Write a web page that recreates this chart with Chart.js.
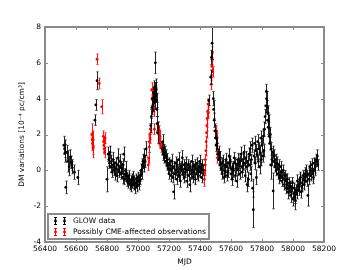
<!DOCTYPE html>
<html>
<head>
<meta charset="utf-8">
<script src="https://cdn.jsdelivr.net/npm/chart.js@4.4.0/dist/chart.umd.min.js"></script>
<style>
  html, body { margin: 0; padding: 0; background: #fff; }
</style>
</head>
<body>
<canvas id="dmChart" width="360" height="270"></canvas>
<script>
// Tick labels
const xTicks = [56400, 56600, 56800, 57000, 57200, 57400, 57600, 57800, 58000, 58200];
const yTicks = [-4, -2, 0, 2, 4, 6, 8];

// GLOW data (black)
const glowMjd = [
  56522, 56526, 56528, 56534, 56540, 56546, 56556, 56564, 56568, 56572, 56576, 56590, 56612,
  56722, 56728, 56736,
  56800, 56808, 56812, 56816, 56820, 56824, 56828, 56832, 56836, 56840, 56844, 56848, 56852, 56856,
  56860, 56864, 56868, 56872, 56876, 56880, 56884, 56888, 56892, 56896, 56900, 56904, 56908, 56912,
  56916, 56920, 56924, 56928, 56932, 56936, 56940, 56944, 56948, 56952, 56956, 56960, 56964, 56968,
  56972, 56976, 56980, 56984, 56988, 56992, 56996, 57000, 57004, 57008, 57012, 57016, 57020, 57024,
  57028, 57032, 57036, 57040, 57046, 57052,
  57082, 57086, 57090, 57094, 57098, 57100, 57104, 57106, 57108, 57110, 57112, 57114, 57116, 57118,
  57120, 57122, 57124, 57126,
  57156, 57160, 57162, 57166, 57170, 57174, 57178, 57182, 57186, 57190, 57194, 57198, 57202, 57206,
  57210, 57214, 57218, 57222, 57226, 57230, 57234, 57238, 57242, 57246, 57250, 57254, 57258, 57262,
  57266, 57270, 57274, 57278, 57282, 57286, 57290, 57294, 57298, 57302, 57306, 57310, 57314, 57318,
  57322, 57326, 57330, 57334, 57338, 57342, 57346, 57350, 57354, 57358, 57362, 57366, 57370, 57374,
  57378, 57382, 57386, 57390, 57394, 57398, 57402, 57406, 57410, 57414, 57418,
  57456, 57470, 57474, 57478, 57486, 57488, 57492, 57496, 57500, 57504, 57510, 57514,
  57520, 57524, 57528, 57532, 57536, 57540, 57544, 57548, 57552, 57556, 57560, 57564, 57568, 57572,
  57576, 57580, 57584, 57588, 57592, 57596, 57600, 57604, 57608, 57612, 57616, 57620, 57624, 57628,
  57632, 57636, 57640, 57644, 57648, 57652, 57656, 57660, 57664, 57668, 57672, 57676, 57680, 57684,
  57688, 57692, 57696, 57700, 57704, 57708, 57712, 57716, 57720, 57724, 57728, 57732, 57736, 57740,
  57744, 57748, 57752, 57756, 57760, 57764, 57768, 57772, 57776, 57780, 57784, 57788, 57792, 57796,
  57800, 57804, 57808, 57812, 57816, 57820, 57824, 57828, 57830, 57834, 57836, 57838, 57840, 57844,
  57846, 57850, 57854, 57856, 57860, 57864, 57868, 57872, 57876, 57880, 57884, 57888, 57892, 57896,
  57900, 57904, 57908, 57912, 57916, 57920, 57924, 57928, 57932, 57936, 57940, 57944, 57948, 57952,
  57956, 57960, 57964, 57968, 57972, 57976, 57980, 57984, 57988, 57992, 57996, 58000, 58004, 58008,
  58012, 58016, 58020, 58024, 58028, 58032, 58036, 58040, 58044, 58048, 58052, 58056, 58060, 58064,
  58068, 58072, 58076, 58080, 58084, 58088, 58092, 58096, 58100, 58104, 58108, 58112, 58116, 58120,
  58124, 58128, 58132, 58136, 58140, 58144, 58148, 58152, 58156, 58160
];
const glowDm = [
  1.4, 1.2, 0.95, -0.95, 1.0, 0.5, 0.2, 0.75, 0.45, 0.3, 0.15, -0.1, -0.4,
  2.8, 3.65, 5.0,
  -0.5, 0.9, 0.6, 0.4, 1.0, 0.2, 0.5, -0.1, 0.3, 0.6, 0.0, 0.2, -0.2, 0.4,
  0.1, -0.3, 0.3, 0.7, 0.0, -0.1, 0.5, 0.2, -0.2, 0.1, -0.4, 0.3, 0.9, -0.5,
  -0.2, 0.0, -0.3, -0.6, -0.4, -0.7, -0.3, -0.5, -0.8, -0.6, -0.9, -0.5, -0.7, -0.4,
  -0.8, -0.6, -1.0, -0.7, -0.5, -0.9, -0.6, -0.4, -0.8, -0.6, -0.3, -0.5, 0.0, -0.2,
  0.3, 0.5, 0.2, 0.8, 0.5, 1.2,
  2.5, 3.0, 3.5, 4.0, 3.7, 4.3, 4.6, 4.1, 3.8, 4.4, 6.0, 4.7, 4.2, 4.5,
  3.9, 3.4, 2.6, 2.1,
  1.2, 1.6, 0.9, 1.1, 0.7, 1.0, 0.5, 0.8, 0.3, 0.6, 0.1, 0.4, -0.2, 0.3,
  0.0, -0.3, 0.5, 0.1, -0.4, -1.2, 0.2, -0.2, 0.4, 0.0, -0.5, 0.3, -0.1, 0.6,
  -0.3, 0.1, -0.6, 0.2, 0.0, 0.7, -0.2, 0.3, -0.4, 0.1, -0.1, 0.4, -0.6, 0.0,
  0.3, -0.3, 0.1, -0.8, 0.2, -0.2, 0.5, 0.0, -0.4, 0.2, -0.1, 0.3, -0.5, 0.1,
  -0.2, 0.4, 0.0, -0.3, 0.2, 0.5, -0.1, 0.1, -0.4, 0.3, 0.0,
  3.9, 5.2, 6.3, 7.1, 4.0, 3.4, 2.8, 2.2, 1.8, 1.4, 1.5, 0.9,
  0.6, 1.0, 0.3, 0.7, 0.1, 0.4, -0.2, 0.5, 0.0, -0.4, 0.3, -0.1, 0.6, 0.2,
  -0.3, -0.1, 0.4, 0.8, 0.3, 0.5, -0.2, 0.1, -0.5, 0.2, 0.0, 0.7, 0.4, -0.3,
  0.1, -0.6, 0.3, 0.6, 0.0, 0.4, -0.2, 0.5, 0.9, 0.2, -0.1, 0.6, 0.3, 1.0,
  0.4, -0.3, 0.7, 0.2, -0.8, 0.5, -0.5, 0.9, 0.3, 1.2, -0.2, 0.6, 1.4, -1.0,
  -2.2, 0.8, 1.5, 0.4, 1.1, -0.4, 0.9, 1.6, 0.5, 1.2, 0.2, 1.0, 1.8, 0.6,
  1.4, 0.8, 1.9, 1.1, 2.3, 3.0, 3.6, 4.4, 4.0, 3.5, 2.8, 3.2, 2.4, 2.7,
  1.9, 1.5, 2.0, 0.3, 1.2, 0.6, 1.0, -1.15, 0.5, 0.8, 0.2, 0.6, 0.0, 0.4,
  -0.2, 0.1, 0.3, -0.4, -0.3, 0.2, -0.1, -0.6, -0.4, 0.0, -0.5, -0.8, -0.3, -0.6,
  -1.0, -0.8, -0.5, -1.2, -1.0, -0.7, -0.9, -1.4, -1.2, -0.9, -0.7, -1.6, -1.3, -1.0,
  -1.5, -1.7, -1.1, -1.3, -0.6, -0.9, -1.1, -0.8, -0.5, -0.4, -1.2, -0.9, -0.7, -0.3,
  -0.5, -0.8, -0.2, -0.4, 0.0, -0.6, -0.3, -1.4, -0.2, -0.5, 0.2, 0.0, -0.3, 0.3,
  0.1, -0.2, -0.4, 0.4, 0.0, 0.2, 0.6, 0.5, 0.8, 0.3
];
const glowErr = [
  0.5, 0.5, 0.5, 0.35, 0.4, 0.6, 0.5, 0.4, 0.35, 0.3, 0.35, 0.4, 0.4,
  0.3, 0.3, 0.5,
  0.7, 0.4, 0.35, 0.3, 0.35, 0.3, 0.35, 0.3, 0.3, 0.4, 0.3, 0.3, 0.35, 0.3,
  0.3, 0.35, 0.3, 0.5, 0.3, 0.3, 0.4, 0.3, 0.3, 0.3, 0.35, 0.35, 0.4, 0.3,
  0.3, 0.5, 0.3, 0.3, 0.3, 0.3, 0.3, 0.3, 0.3, 0.3, 0.3, 0.3, 0.3, 0.35,
  0.3, 0.3, 0.3, 0.3, 0.3, 0.3, 0.3, 0.3, 0.3, 0.3, 0.3, 0.3, 0.35, 0.3,
  0.35, 0.4, 0.3, 0.4, 0.35, 0.4,
  0.4, 0.4, 0.4, 0.4, 0.4, 0.4, 0.4, 0.4, 0.4, 0.5, 0.6, 0.4, 0.4, 0.4,
  0.4, 0.4, 0.4, 0.6,
  0.35, 0.4, 0.35, 0.35, 0.3, 0.35, 0.3, 0.35, 0.3, 0.35, 0.3, 0.3, 0.3, 0.3,
  0.3, 0.35, 0.4, 0.3, 0.3, 0.4, 0.3, 0.3, 0.35, 0.3, 0.3, 0.3, 0.3, 0.4,
  0.3, 0.3, 0.35, 0.3, 0.3, 0.4, 0.3, 0.3, 0.3, 0.3, 0.3, 0.35, 0.35, 0.3,
  0.3, 0.3, 0.3, 0.4, 0.3, 0.3, 0.35, 0.3, 0.3, 0.3, 0.3, 0.3, 0.3, 0.3,
  0.3, 0.3, 0.3, 0.3, 0.3, 0.35, 0.3, 0.3, 0.3, 0.3, 0.3,
  0.3, 0.4, 0.4, 0.9, 0.4, 0.5, 0.4, 0.4, 0.4, 0.35, 0.35, 0.3,
  0.35, 0.35, 0.3, 0.35, 0.3, 0.3, 0.3, 0.35, 0.3, 0.3, 0.3, 0.3, 0.35, 0.3,
  0.3, 0.3, 0.3, 0.4, 0.3, 0.3, 0.3, 0.3, 0.35, 0.3, 0.4, 0.3, 0.3, 0.3,
  0.3, 0.35, 0.3, 0.35, 0.3, 0.3, 0.3, 0.3, 0.4, 0.3, 0.3, 0.35, 0.3, 0.4,
  0.3, 0.35, 0.35, 0.3, 0.4, 0.3, 0.4, 0.35, 0.3, 0.4, 0.4, 0.3, 0.4, 0.5,
  1.0, 0.35, 0.4, 0.35, 0.35, 0.4, 0.3, 0.4, 0.35, 0.35, 0.4, 0.35, 0.4, 0.35,
  0.4, 0.35, 0.4, 0.35, 0.4, 0.4, 0.4, 0.4, 0.4, 0.4, 0.4, 0.4, 0.4, 0.4,
  0.4, 0.35, 0.4, 0.8, 0.35, 0.35, 0.35, 1.0, 0.35, 0.35, 0.3, 0.3, 0.3, 0.35,
  0.3, 0.3, 0.3, 0.35, 0.3, 0.3, 0.35, 0.3, 0.3, 0.3, 0.4, 0.3, 0.3, 0.4,
  0.3, 0.3, 0.3, 0.4, 0.3, 0.3, 0.3, 0.4, 0.3, 0.3, 0.3, 0.4, 0.35, 0.3,
  0.35, 0.5, 0.3, 0.3, 0.35, 0.3, 0.3, 0.3, 0.3, 0.3, 0.35, 0.3, 0.3, 0.3,
  0.3, 0.3, 0.35, 0.3, 0.3, 0.3, 0.3, 0.6, 0.3, 0.3, 0.3, 0.3, 0.3, 0.35,
  0.3, 0.3, 0.35, 0.3, 0.3, 0.35, 0.3, 0.3, 0.35, 0.3
];

// Possibly CME-affected observations (red)
const cmeMjd = [
  56702, 56704, 56706, 56708, 56710, 56712, 56736, 56750, 56766,
  56776, 56778, 56780, 56782, 56784, 56788,
  57066, 57068, 57072, 57074, 57076, 57078, 57080, 57088, 57090, 57092, 57096, 57102, 57106,
  57132, 57134, 57136, 57138, 57140, 57142, 57146,
  57428, 57430, 57432, 57434, 57438, 57440, 57442, 57444, 57446, 57450, 57452, 57454,
  57472, 57474, 57476, 57478, 57480, 57482, 57506, 57508, 57510, 57512
];
const cmeDm = [
  2.0, 1.7, 1.5, 1.8, 1.2, 1.3, 6.2, 4.85, 3.55,
  1.9, 1.6, 1.4, 1.2, 1.0, 1.8,
  0.3, 0.7, 1.3, 1.6, 2.0, 1.8, 2.3, 4.5, 4.0, 3.6, 4.2, 3.3, 2.3,
  2.4, 2.0, 1.7, 2.2, 1.5, 1.9, 1.3,
  -0.5, 0.0, 0.3, 0.6, 1.1, 1.6, 2.1, 2.5, 2.9, 3.3, 3.7, 3.2,
  4.8, 5.3, 5.8, 6.2, 6.6, 5.5, 2.2, 1.8, 1.2, 0.7
];
const cmeErr = [
  0.6, 0.4, 0.4, 0.4, 0.5, 0.4, 0.3, 0.3, 0.4,
  0.3, 0.3, 0.3, 0.3, 0.3, 0.3,
  0.3, 0.3, 0.3, 0.3, 0.3, 0.3, 0.3, 0.4, 0.4, 0.4, 0.4, 0.3, 0.3,
  0.3, 0.3, 0.3, 0.3, 0.3, 0.3, 0.3,
  0.4, 0.3, 0.3, 0.3, 0.3, 0.3, 0.3, 0.3, 0.3, 0.3, 0.3, 0.3,
  0.3, 0.3, 0.3, 0.3, 0.3, 0.3, 0.3, 0.3, 0.3, 0.3
];

const FONT = 'DejaVu Sans';
const FRAME = '#8a8a8a';

function toPoints(xs, ys) {
  return xs.map((x, i) => ({ x: x, y: ys[i] }));
}

// Draw error bars for each dataset just before its markers
const errorBars = {
  id: 'errorBars',
  beforeDatasetDraw(chart, args) {
    const ds = chart.data.datasets[args.index];
    const xs = chart.scales.x, ys = chart.scales.y;
    const area = chart.chartArea;
    const ctx = chart.ctx;
    ctx.save();
    ctx.beginPath();
    ctx.rect(area.left, area.top, area.right - area.left, area.bottom - area.top);
    ctx.clip();
    ctx.lineWidth = 1;
    ds.data.forEach((p, i) => {
      const px = Math.round(xs.getPixelForValue(p.x)) + 0.5;
      const top = ys.getPixelForValue(p.y + ds.errors[i]);
      const bot = ys.getPixelForValue(p.y - ds.errors[i]);
      ctx.strokeStyle = ds.barColor;
      ctx.beginPath();
      ctx.moveTo(px, top);
      ctx.lineTo(px, bot);
      ctx.stroke();
      ctx.strokeStyle = ds.capColor;
      ctx.beginPath();
      ctx.moveTo(px - 1.5, top);
      ctx.lineTo(px + 1.5, top);
      ctx.moveTo(px - 1.5, bot);
      ctx.lineTo(px + 1.5, bot);
      ctx.stroke();
    });
    ctx.restore();
  }
};

// Frame, inward ticks and legend box
const frameAndLegend = {
  id: 'frameAndLegend',
  afterDraw(chart) {
    const ctx = chart.ctx;
    const a = chart.chartArea;
    const xs = chart.scales.x, ys = chart.scales.y;
    ctx.save();
    ctx.strokeStyle = FRAME;
    ctx.lineWidth = 1;
    xTicks.forEach(v => {
      const px = Math.round(xs.getPixelForValue(v)) + 0.5;
      ctx.beginPath();
      ctx.moveTo(px, a.top); ctx.lineTo(px, a.top + 3);
      ctx.moveTo(px, a.bottom); ctx.lineTo(px, a.bottom - 3);
      ctx.stroke();
    });
    yTicks.forEach(v => {
      const py = Math.round(ys.getPixelForValue(v)) + 0.5;
      ctx.beginPath();
      ctx.moveTo(a.left, py); ctx.lineTo(a.left + 3, py);
      ctx.moveTo(a.right, py); ctx.lineTo(a.right - 3, py);
      ctx.stroke();
    });
    ctx.lineWidth = 2;
    ctx.strokeRect(a.left, a.top, a.right - a.left, a.bottom - a.top);

    // legend
    const lx = 48, ly = 214, lw = 161, lh = 25;
    ctx.fillStyle = '#fff';
    ctx.fillRect(lx, ly, lw, lh);
    ctx.strokeRect(lx, ly, lw, lh);
    const rows = [
      { label: 'GLOW data', color: '#000', y: 221 },
      { label: 'Possibly CME-affected observations', color: '#ff0000', y: 232 }
    ];
    rows.forEach(r => {
      [55, 64].forEach(mx => {
        ctx.strokeStyle = r.color;
        ctx.lineWidth = 1;
        ctx.beginPath();
        ctx.moveTo(mx + 0.5, r.y - 3.5); ctx.lineTo(mx + 0.5, r.y + 3.5);
        ctx.moveTo(mx - 1, r.y - 3.5); ctx.lineTo(mx + 2, r.y - 3.5);
        ctx.moveTo(mx - 1, r.y + 3.5); ctx.lineTo(mx + 2, r.y + 3.5);
        ctx.stroke();
        ctx.fillStyle = r.color;
        ctx.beginPath();
        ctx.arc(mx + 0.5, r.y, 1.4, 0, Math.PI * 2);
        ctx.fill();
      });
      ctx.fillStyle = '#000';
      ctx.font = '7.5px "' + FONT + '"';
      ctx.textBaseline = 'middle';
      ctx.textAlign = 'left';
      ctx.fillText(r.label, 73, r.y + 0.5);
    });
    ctx.restore();
  }
};

new Chart(document.getElementById('dmChart'), {
  type: 'scatter',
  data: {
    datasets: [
      {
        label: 'GLOW data',
        data: toPoints(glowMjd, glowDm),
        errors: glowErr,
        barColor: 'rgba(0,0,0,0.85)',
        capColor: 'rgba(0,0,0,0.5)',
        backgroundColor: '#000',
        borderWidth: 0,
        pointRadius: 1.4
      },
      {
        label: 'Possibly CME-affected observations',
        data: toPoints(cmeMjd, cmeDm),
        errors: cmeErr,
        barColor: 'rgba(255,0,0,0.9)',
        capColor: 'rgba(255,0,0,0.5)',
        backgroundColor: '#ff0000',
        borderWidth: 0,
        pointRadius: 1.4
      }
    ]
  },
  options: {
    responsive: false,
    animation: false,
    devicePixelRatio: 1,
    events: [],
    layout: { padding: { left: 0, right: 36, top: 27, bottom: 0 } },
    plugins: { legend: { display: false }, tooltip: { enabled: false } },
    scales: {
      x: {
        type: 'linear',
        min: 56400,
        max: 58200,
        afterBuildTicks: s => { s.ticks = xTicks.map(v => ({ value: v })); },
        afterFit: s => { s.height = 28; },
        grid: { display: false, drawTicks: false },
        border: { display: false },
        ticks: {
          font: { family: FONT, size: 7.5 }, color: '#000', padding: 3, maxRotation: 0, autoSkip: false,
          callback: v => String(v)
        },
        title: { display: true, text: 'MJD', font: { family: FONT, size: 7.5 }, color: '#000', padding: { top: 0, bottom: 3 } }
      },
      y: {
        type: 'linear',
        min: -4,
        max: 8,
        afterBuildTicks: s => { s.ticks = yTicks.map(v => ({ value: v })); },
        afterFit: s => { s.width = 45; },
        grid: { display: false, drawTicks: false },
        border: { display: false },
        ticks: { font: { family: FONT, size: 7.5 }, color: '#000', padding: 4, callback: v => String(v) },
        title: { display: true, text: 'DM variations [10⁻⁴ pc/cm³]', font: { family: FONT, size: 7.5 }, color: '#000', padding: { top: 18, bottom: 0 } }
      }
    }
  },
  plugins: [errorBars, frameAndLegend]
});
</script>
</body>
</html>
